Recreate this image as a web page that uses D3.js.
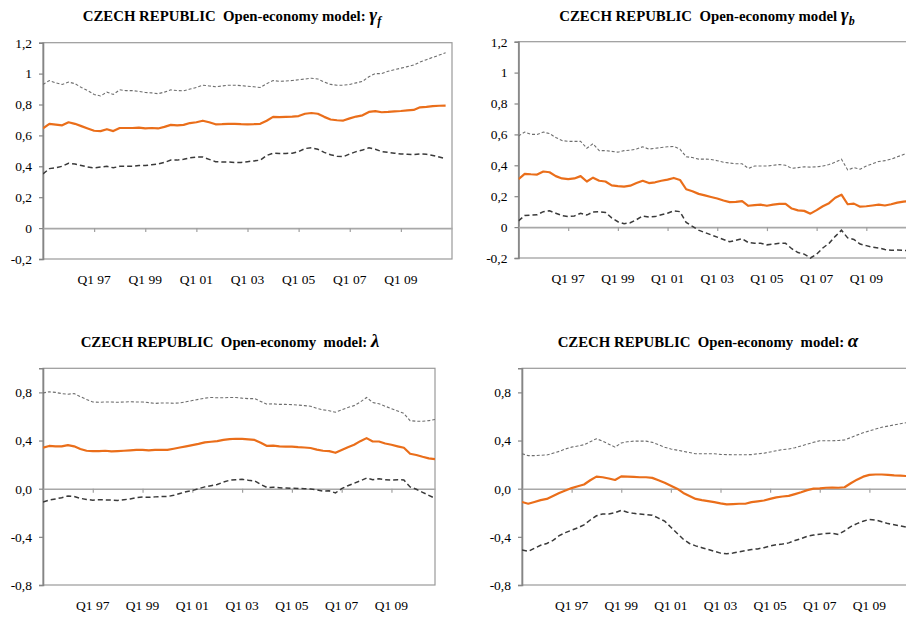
<!DOCTYPE html>
<html>
<head>
<meta charset="utf-8">
<script src="https://cdn.jsdelivr.net/npm/d3@7/dist/d3.min.js"></script>
<style>
	body { margin: 0; background: #fff; }
	svg { display: block; }
	svg text { font-family: "Liberation Serif", "Times New Roman", Times, serif !important; }
</style>
</head>
<body>
<div id="chart"></div>
<script>
// quarter index of each labelled tick (index 0 = Q1 95)
const xTickIndex = [8, 16, 24, 32, 40, 48, 56];
const xTickLabels = ['Q1 97', 'Q1 99', 'Q1 01', 'Q1 03', 'Q1 05', 'Q1 07', 'Q1 09'];
const yTicksTop = [-0.2, 0, 0.2, 0.4, 0.6, 0.8, 1, 1.2];
const yTicksBottom = [-0.8, -0.4, 0, 0.4, 0.8];

// gamma f
const gfMid = [0.645,0.675,0.67,0.665,0.685,0.675,0.66,0.645,0.63,0.628,0.64,0.628,0.648,0.648,0.648,0.65,
	0.645,0.648,0.645,0.655,0.668,0.665,0.668,0.68,0.685,0.695,0.685,0.672,0.673,0.675,0.675,0.673,
	0.672,0.673,0.675,0.695,0.72,0.718,0.72,0.722,0.725,0.74,0.745,0.74,0.72,0.703,0.698,0.696,
	0.71,0.722,0.73,0.752,0.757,0.75,0.752,0.755,0.758,0.762,0.765,0.782,0.785,0.79,0.792,0.793];
const gfUp = [0.93,0.955,0.94,0.93,0.945,0.935,0.91,0.89,0.865,0.855,0.88,0.865,0.895,0.89,0.89,0.885,
	0.878,0.875,0.87,0.88,0.895,0.89,0.888,0.9,0.91,0.925,0.92,0.915,0.92,0.925,0.925,0.922,
	0.918,0.915,0.91,0.935,0.955,0.95,0.952,0.955,0.96,0.965,0.97,0.965,0.945,0.93,0.925,0.925,
	0.93,0.94,0.95,0.98,1.0,1.0,1.015,1.025,1.035,1.045,1.055,1.075,1.09,1.105,1.12,1.135];
const gfLow = [0.35,0.385,0.39,0.4,0.42,0.415,0.405,0.395,0.39,0.395,0.4,0.39,0.4,0.4,0.4,0.405,
	0.405,0.41,0.415,0.425,0.44,0.44,0.445,0.455,0.46,0.46,0.445,0.43,0.428,0.428,0.425,0.425,
	0.43,0.435,0.44,0.47,0.485,0.483,0.483,0.485,0.495,0.515,0.52,0.51,0.49,0.475,0.465,0.462,
	0.48,0.495,0.505,0.52,0.51,0.495,0.49,0.485,0.48,0.478,0.475,0.48,0.478,0.47,0.46,0.45];

// gamma b
const gbMid = [0.31,0.345,0.342,0.34,0.36,0.355,0.33,0.315,0.31,0.315,0.33,0.295,0.32,0.3,0.295,0.27,
	0.265,0.262,0.268,0.285,0.3,0.285,0.29,0.3,0.307,0.318,0.305,0.245,0.232,0.215,0.205,0.195,
	0.185,0.172,0.162,0.163,0.168,0.138,0.142,0.145,0.138,0.145,0.15,0.15,0.12,0.108,0.105,0.087,
	0.11,0.135,0.155,0.19,0.21,0.148,0.152,0.132,0.135,0.14,0.145,0.14,0.148,0.158,0.165,0.168];
const gbUp = [0.59,0.615,0.6,0.6,0.615,0.605,0.58,0.56,0.555,0.555,0.555,0.51,0.54,0.495,0.495,0.49,
	0.485,0.495,0.498,0.505,0.52,0.505,0.51,0.515,0.52,0.522,0.505,0.455,0.45,0.44,0.44,0.438,
	0.43,0.42,0.415,0.41,0.41,0.38,0.395,0.395,0.395,0.4,0.405,0.4,0.38,0.385,0.39,0.388,
	0.39,0.395,0.405,0.42,0.44,0.37,0.385,0.375,0.395,0.41,0.425,0.43,0.44,0.455,0.47,0.485];
const gbLow = [0.04,0.075,0.078,0.08,0.1,0.105,0.09,0.075,0.068,0.072,0.09,0.078,0.098,0.1,0.095,0.06,
	0.035,0.022,0.028,0.048,0.072,0.065,0.068,0.08,0.09,0.105,0.1,0.03,0.005,-0.02,-0.035,-0.05,
	-0.065,-0.08,-0.095,-0.085,-0.075,-0.1,-0.105,-0.105,-0.115,-0.11,-0.105,-0.105,-0.14,-0.165,-0.175,-0.2,
	-0.175,-0.135,-0.105,-0.06,-0.02,-0.07,-0.08,-0.11,-0.12,-0.13,-0.135,-0.145,-0.15,-0.148,-0.15,-0.155];

// lambda
const lamMid = [0.34,0.355,0.352,0.352,0.362,0.352,0.33,0.315,0.312,0.312,0.315,0.31,0.312,0.315,0.318,0.322,
	0.322,0.318,0.322,0.322,0.322,0.332,0.342,0.352,0.362,0.372,0.385,0.39,0.395,0.405,0.412,0.415,
	0.413,0.41,0.405,0.382,0.355,0.358,0.352,0.35,0.35,0.345,0.342,0.338,0.325,0.315,0.312,0.298,
	0.322,0.345,0.365,0.395,0.42,0.392,0.392,0.375,0.365,0.352,0.34,0.29,0.28,0.265,0.252,0.245];
const lamUp = [0.795,0.805,0.8,0.79,0.785,0.79,0.765,0.74,0.72,0.718,0.72,0.72,0.718,0.72,0.722,0.72,
	0.72,0.715,0.708,0.712,0.712,0.71,0.712,0.722,0.732,0.742,0.752,0.758,0.755,0.755,0.758,0.758,
	0.752,0.748,0.748,0.725,0.702,0.705,0.7,0.7,0.698,0.695,0.69,0.685,0.668,0.655,0.648,0.635,
	0.655,0.675,0.69,0.72,0.758,0.715,0.705,0.685,0.665,0.645,0.625,0.565,0.56,0.56,0.565,0.575];
const lamLow = [-0.11,-0.095,-0.085,-0.075,-0.06,-0.065,-0.08,-0.09,-0.095,-0.092,-0.093,-0.095,-0.098,-0.092,-0.085,-0.075,
	-0.07,-0.072,-0.068,-0.065,-0.065,-0.055,-0.04,-0.025,-0.015,0.0,0.015,0.025,0.035,0.055,0.07,0.075,
	0.078,0.07,0.065,0.035,0.01,0.012,0.008,0.005,0.003,0.002,0.0,-0.002,-0.01,-0.02,-0.018,-0.035,
	0.0,0.025,0.045,0.065,0.088,0.075,0.082,0.075,0.072,0.075,0.072,0.015,-0.005,-0.03,-0.055,-0.08];

// alpha
const alMid = [-0.11,-0.125,-0.11,-0.095,-0.085,-0.06,-0.035,-0.015,0.005,0.02,0.035,0.07,0.1,0.095,0.085,0.072,
	0.102,0.1,0.098,0.095,0.095,0.09,0.07,0.05,0.025,0.0,-0.035,-0.06,-0.085,-0.095,-0.103,-0.112,
	-0.122,-0.13,-0.128,-0.125,-0.125,-0.112,-0.105,-0.098,-0.085,-0.072,-0.065,-0.06,-0.045,-0.03,-0.012,0.0,
	0.003,0.008,0.01,0.008,0.012,0.045,0.075,0.1,0.115,0.118,0.118,0.115,0.11,0.108,0.105,0.104];
const alUp = [0.29,0.275,0.275,0.278,0.28,0.295,0.31,0.33,0.345,0.355,0.365,0.39,0.415,0.395,0.37,0.345,
	0.38,0.39,0.395,0.395,0.395,0.385,0.365,0.345,0.33,0.32,0.31,0.3,0.29,0.29,0.29,0.29,
	0.285,0.283,0.282,0.282,0.282,0.283,0.29,0.295,0.305,0.315,0.325,0.33,0.34,0.355,0.37,0.385,
	0.398,0.398,0.398,0.4,0.405,0.425,0.445,0.465,0.48,0.495,0.51,0.52,0.53,0.54,0.548,0.555];
const alLow = [-0.51,-0.52,-0.495,-0.47,-0.455,-0.43,-0.39,-0.365,-0.345,-0.325,-0.3,-0.26,-0.225,-0.21,-0.21,-0.2,
	-0.18,-0.195,-0.205,-0.21,-0.215,-0.22,-0.245,-0.27,-0.32,-0.37,-0.42,-0.455,-0.475,-0.49,-0.505,-0.52,
	-0.535,-0.54,-0.535,-0.525,-0.515,-0.505,-0.5,-0.49,-0.475,-0.465,-0.46,-0.45,-0.43,-0.415,-0.395,-0.385,
	-0.378,-0.372,-0.37,-0.38,-0.35,-0.315,-0.29,-0.27,-0.255,-0.26,-0.275,-0.29,-0.3,-0.31,-0.32,-0.335];

const serif = '"Liberation Serif", "Times New Roman", Times, serif';

const panels = [
	{ id: 'gf', title: 'CZECH REPUBLIC  Open-economy model: ', sym: 'γ', sub: 'f', titleX: 232, titleY: 21,
		mid: gfMid, up: gfUp, low: gfLow, left: 43, right: 452, top: 42.7, bottom: 259,
		yDomain: [-0.2, 1.2], yTicks: yTicksTop, fmt: d => String(+d.toFixed(1)).replace('.', ','), xMax: 64 },
	{ id: 'gb', title: 'CZECH REPUBLIC  Open-economy model ', sym: 'γ', sub: 'b', titleX: 707, titleY: 21,
		mid: gbMid, up: gbUp, low: gbLow, left: 518.5, right: 916, top: 41.7, bottom: 258,
		yDomain: [-0.2, 1.2], yTicks: yTicksTop, fmt: d => String(+d.toFixed(1)).replace('.', ','), xMax: 64 },
	{ id: 'lam', title: 'CZECH REPUBLIC  Open-economy  model: ', sym: 'λ', sub: '', titleX: 230, titleY: 347,
		mid: lamMid, up: lamUp, low: lamLow, left: 43, right: 435, top: 368.3, bottom: 585,
		yDomain: [-0.8, 1.0], yTicks: yTicksBottom, fmt: d => d.toFixed(1).replace('.', ','), xMax: 63 },
	{ id: 'al', title: 'CZECH REPUBLIC  Open-economy  model: ', sym: 'α', sub: '', titleX: 708, titleY: 347,
		mid: alMid, up: alUp, low: alLow, left: 522, right: 919, top: 368.3, bottom: 585,
		yDomain: [-0.8, 1.0], yTicks: yTicksBottom, fmt: d => d.toFixed(1).replace('.', ','), xMax: 64 }
];

const svg = d3.select('#chart').append('svg')
	.attr('width', 906)
	.attr('height', 617)
	.attr('font-family', serif);

const defs = svg.append('defs');

panels.forEach(function (p) {
	let xScale = d3.scaleLinear().domain([0, p.xMax]).range([p.left, p.right]);
	let yScale = d3.scaleLinear().domain(p.yDomain).range([p.bottom, p.top]);
	let g = svg.append('g').attr('class', 'panel-' + p.id).attr('font-family', serif);

	defs.append('clipPath').attr('id', 'clip-' + p.id)
		.append('rect')
		.attr('x', p.left).attr('y', p.top - 1)
		.attr('width', p.right - p.left).attr('height', p.bottom - p.top + 2);

	// title
	let title = g.append('text')
		.attr('x', p.titleX)
		.attr('y', p.titleY)
		.attr('text-anchor', 'middle')
		.attr('font-weight', 'bold')
		.attr('font-family', serif)
		.style('font-size', '14.8px')
		.style('white-space', 'pre')
		.attr('fill', '#000');
	title.append('tspan').text(p.title);
	title.append('tspan').text(p.sym)
		.style('font-style', 'italic')
		.style('font-size', '19px');
	if (p.sub) {
		title.append('tspan').text(p.sub)
			.attr('dy', 4)
			.style('font-style', 'italic')
			.style('font-size', '12px');
	}

	// plot frame
	g.append('rect')
		.attr('x', p.left).attr('y', p.top)
		.attr('width', p.right - p.left).attr('height', p.bottom - p.top)
		.attr('fill', 'none')
		.attr('stroke', '#9a9a9a')
		.attr('stroke-width', 1.2);

	// y axis
	let yAxis = g.append('g')
		.attr('transform', `translate(${p.left},0)`)
		.call(d3.axisLeft(yScale).tickValues(p.yTicks).tickFormat(p.fmt).tickSize(4).tickPadding(7));
	yAxis.attr('font-family', serif).attr('font-size', 13.5);
	yAxis.select('.domain').attr('stroke', '#858585').attr('stroke-width', 1.6);
	yAxis.selectAll('.tick line').attr('stroke', '#858585').attr('stroke-width', 1.2);
	yAxis.selectAll('.tick text').attr('fill', '#000');

	// x axis on the zero line
	let xAxis = g.append('g')
		.attr('transform', `translate(0,${yScale(0)})`)
		.call(d3.axisBottom(xScale).tickValues(xTickIndex).tickFormat('').tickSize(4).tickSizeOuter(0));
	xAxis.select('.domain').attr('stroke', '#a8a8a8').attr('stroke-width', 1.6);
	xAxis.selectAll('.tick line').attr('stroke', '#a0a0a0').attr('stroke-width', 1.2);

	// x tick labels at the bottom
	g.selectAll('.xlab')
		.data(xTickIndex)
		.enter().append('text')
		.attr('class', 'xlab')
		.attr('x', d => xScale(d))
		.attr('y', p.bottom + 25)
		.attr('text-anchor', 'middle')
		.attr('font-family', serif)
		.attr('font-size', 13.5)
		.attr('fill', '#000')
		.text((d, i) => xTickLabels[i]);

	let line = d3.line()
		.x((d, i) => xScale(i))
		.y(d => yScale(d));

	let lines = g.append('g').attr('clip-path', `url(#clip-${p.id})`);

	lines.append('path')
		.datum(p.up)
		.attr('d', line)
		.attr('fill', 'none')
		.attr('stroke', '#6e6e6e')
		.attr('stroke-width', 1.1)
		.attr('stroke-dasharray', '3,2');

	lines.append('path')
		.datum(p.low)
		.attr('d', line)
		.attr('fill', 'none')
		.attr('stroke', '#3a3a3a')
		.attr('stroke-width', 1.5)
		.attr('stroke-dasharray', '5,3');

	lines.append('path')
		.datum(p.mid)
		.attr('d', line)
		.attr('fill', 'none')
		.attr('stroke', '#EA6E1A')
		.attr('stroke-width', 2.2)
		.attr('stroke-linejoin', 'round');
});
</script>
</body>
</html>
